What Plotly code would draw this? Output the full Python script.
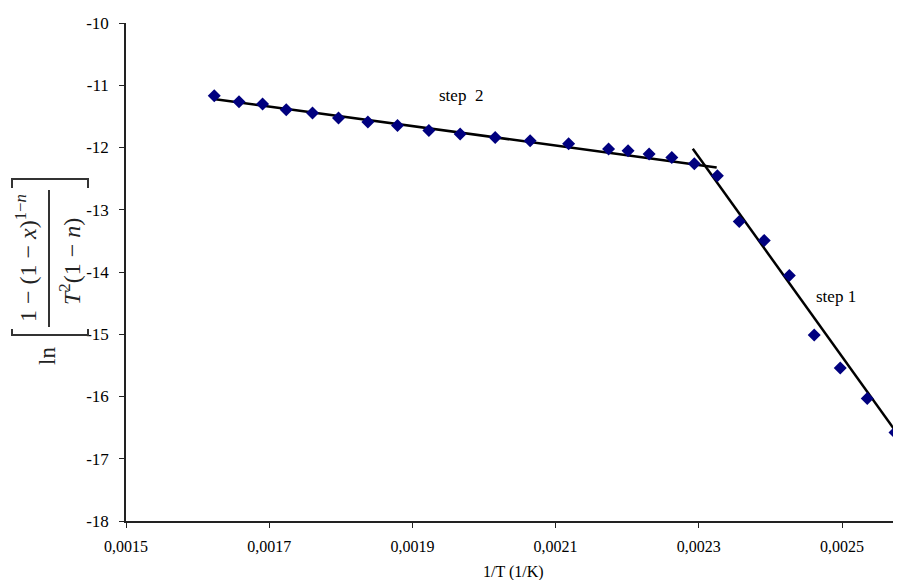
import plotly.graph_objects as go

# ---- data ----
inv_T = [0.0016233, 0.0016578, 0.0016907, 0.0017238, 0.0017605, 0.0017968,
         0.0018378, 0.0018792, 0.0019230, 0.0019667, 0.0020156, 0.0020644,
         0.0021182, 0.0021740, 0.0022012, 0.0022306, 0.0022623, 0.0022937,
         0.0023259, 0.0023565, 0.0023914, 0.0024264, 0.0024612, 0.0024976,
         0.0025353, 0.0025740]
ln_val = [-11.169, -11.265, -11.302, -11.394, -11.447, -11.527,
          -11.592, -11.646, -11.727, -11.785, -11.839, -11.892,
          -11.940, -12.026, -12.053, -12.106, -12.161, -12.262,
          -12.455, -13.190, -13.492, -14.058, -15.011, -15.542,
          -16.032, -16.579]

# fitted lines (end points)
step2_x = [0.0016223, 0.0023250]
step2_y = [-11.222, -12.321]
step1_x = [0.0022916, 0.0025900]
step1_y = [-12.021, -16.800]

x_ticks = [0.0015, 0.0017, 0.0019, 0.0021, 0.0023, 0.0025]
x_tick_text = ["0,0015", "0,0017", "0,0019", "0,0021", "0,0023", "0,0025"]
y_ticks = [-10, -11, -12, -13, -14, -15, -16, -17, -18]
y_tick_text = ["-10", "-11", "-12", "-13", "-14", "-15", "-16", "-17", "-18"]

# the page body has an 8px margin, so the figure is shrunk and shifted
OFF = 8
W, H = 901 - OFF, 580 - OFF
L, R, T, B = 126 - OFF, 0, 23 - OFF, 59
PW, PH = W - L - R, H - T - B


def px(x):
    return (x - OFF - L) / PW


def py(y):
    return (H - B - (y - OFF)) / PH


SERIF = "Liberation Serif, Times New Roman, serif"

fig = go.Figure()
fig.add_trace(go.Scatter(x=step2_x, y=step2_y, mode="lines",
                         line=dict(color="black", width=2.5), showlegend=False))
fig.add_trace(go.Scatter(x=step1_x, y=step1_y, mode="lines",
                         line=dict(color="black", width=2.5), showlegend=False))
fig.add_trace(go.Scatter(x=inv_T, y=ln_val, mode="markers",
                         marker=dict(symbol="diamond", size=10, color="#00007f"),
                         showlegend=False))

annotations = [
    dict(x=0.0019681, y=-11.169, xref="x", yref="y", text="step  2", showarrow=False,
         font=dict(family=SERIF, size=17, color="black")),
    dict(x=0.0024916, y=-14.40, xref="x", yref="y", text="step 1", showarrow=False,
         font=dict(family=SERIF, size=17, color="black")),
    # y-axis formula, rotated
    dict(x=px(26), y=py(258), xref="paper", yref="paper", textangle=-90,
         text="1 − (1 − <i>x</i>)<sup>1−<i>n</i></sup>", showarrow=False,
         xanchor="center", yanchor="middle",
         font=dict(family=SERIF, size=24, color="#222")),
    dict(x=px(70), y=py(261), xref="paper", yref="paper", textangle=-90,
         text="<i>T</i><sup>2</sup>(1 − <i>n</i>)", showarrow=False,
         xanchor="center", yanchor="middle",
         font=dict(family=SERIF, size=24, color="#222")),
    dict(x=px(47), y=py(356), xref="paper", yref="paper", textangle=-90,
         text="ln", showarrow=False, xanchor="center", yanchor="middle",
         font=dict(family=SERIF, size=23, color="#222")),
    # x-axis title placed at the reference position
    dict(x=0.5, y=py(572), xref="paper", yref="paper", text="1/T (1/K)",
         showarrow=False, xanchor="center", yanchor="middle",
         font=dict(family=SERIF, size=16, color="black")),
]

shapes = [
    # fraction bar
    dict(type="line", xref="paper", yref="paper", x0=px(49), x1=px(49),
         y0=py(190), y1=py(327), line=dict(color="#333", width=2)),
    # top bracket ]
    dict(type="path", xref="paper", yref="paper",
         path=f"M {px(12)} {py(188)} L {px(12)} {py(179)} L {px(88)} {py(179)} L {px(88)} {py(188)}",
         line=dict(color="#333", width=2)),
    # bottom bracket [
    dict(type="path", xref="paper", yref="paper",
         path=f"M {px(12)} {py(329)} L {px(12)} {py(335)} L {px(88)} {py(335)} L {px(88)} {py(329)}",
         line=dict(color="#333", width=2)),
]

fig.update_layout(
    width=W, height=H,
    margin=dict(l=L, r=R, t=T, b=B, pad=0),
    paper_bgcolor="white", plot_bgcolor="white",
    annotations=annotations, shapes=shapes,
    font=dict(family=SERIF, size=16, color="black"),
    xaxis=dict(range=[0.0015, 0.0025824], tickvals=x_ticks, ticktext=x_tick_text,
               showgrid=False, zeroline=False, showline=True, linecolor="#222",
               linewidth=1.5, ticks="outside", ticklen=5, tickcolor="#222",
               ticklabelstandoff=5,
               tickfont=dict(family=SERIF, size=16)),
    yaxis=dict(range=[-18, -10], tickvals=y_ticks, ticktext=y_tick_text,
               showgrid=False, zeroline=False, showline=True, linecolor="#222",
               linewidth=1.5, ticks="outside", ticklen=5, tickcolor="#222",
               ticklabelstandoff=7,
               tickfont=dict(family=SERIF, size=17)),
)

fig.write_html("out.html")
